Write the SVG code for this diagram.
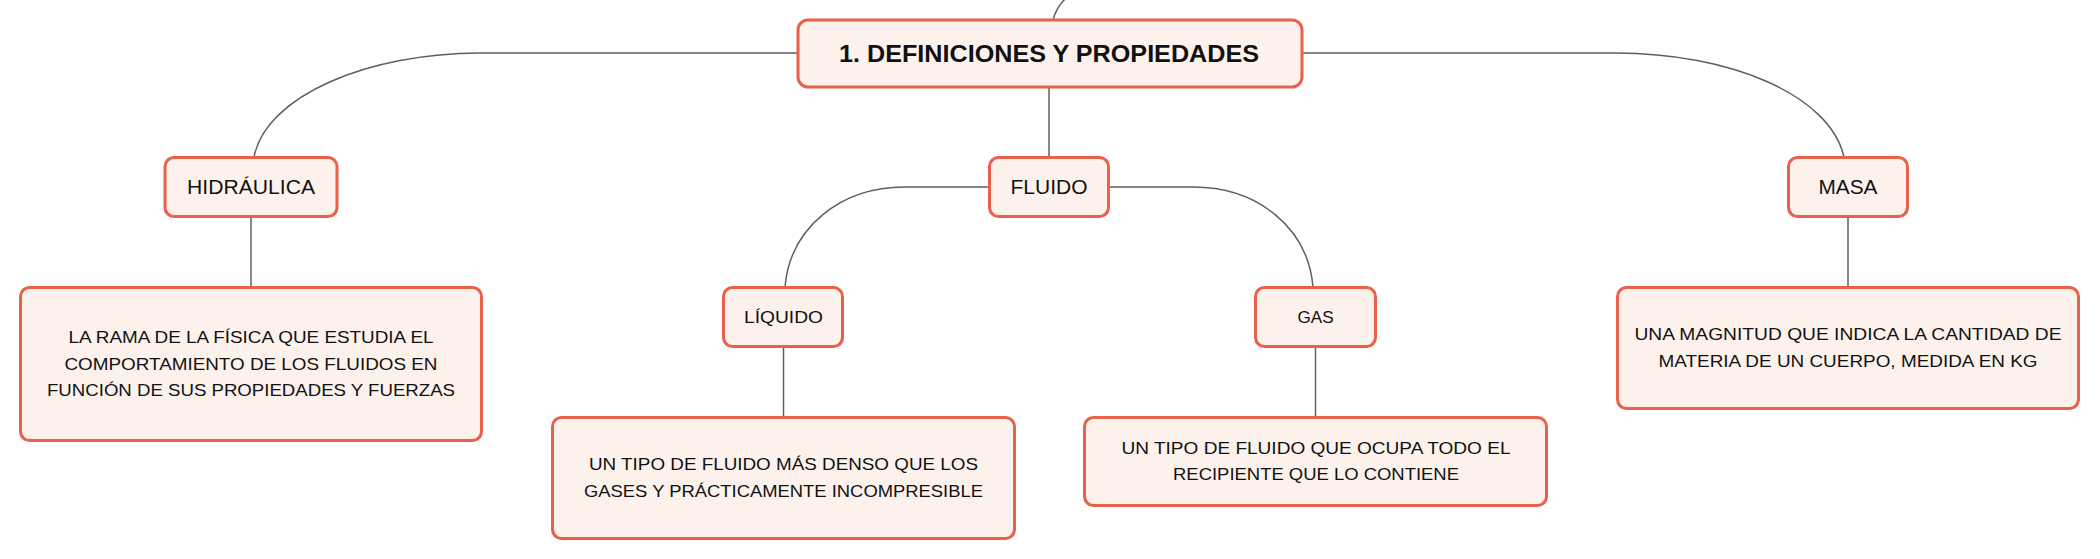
<svg xmlns="http://www.w3.org/2000/svg" width="2100" height="559" viewBox="0 0 2100 559">
<style>
.box{fill:#FDF1EC;stroke:#E9604B;stroke-width:3}
.lnk{fill:none;stroke:#5f5f5f;stroke-width:1.5}
text{font-family:"Liberation Sans",Arial,sans-serif;fill:#111;text-anchor:middle}
.t0{font-size:24px;font-weight:bold}
.t1{font-size:20px}
.t2{font-size:17px}
</style>
<rect width="2100" height="559" fill="#ffffff"/>
<g id="connectors">
<path class="lnk" d="M1053,20 C1055,12 1059,5 1065,-1"/>
<path class="lnk" d="M797,53 H480 C370,53 266,95 254,157"/>
<path class="lnk" d="M1049,87 V157"/>
<path class="lnk" d="M1302,53 H1615 C1730,53 1830,95 1844,157"/>
<path class="lnk" d="M251,217 V287"/>
<path class="lnk" d="M989,187 H905 C840,187 790,228 785,287"/>
<path class="lnk" d="M1109,187 H1193 C1258,187 1308,228 1313,287"/>
<path class="lnk" d="M783.5,347 V417"/>
<path class="lnk" d="M1315.5,347 V417"/>
<path class="lnk" d="M1848,217 V287"/>
</g>
<g id="main">
<rect class="box" x="798" y="20" width="504" height="67" rx="10"/>
<text class="t0" x="1049" y="62" textLength="420" lengthAdjust="spacingAndGlyphs">1. DEFINICIONES Y PROPIEDADES</text>
</g>
<g id="hidraulica">
<rect class="box" x="165" y="157.5" width="172" height="59" rx="9"/>
<text class="t1" x="251" y="194" textLength="128" lengthAdjust="spacingAndGlyphs">HIDRÁULICA</text>
</g>
<g id="fluido">
<rect class="box" x="989.5" y="157.5" width="119" height="59" rx="9"/>
<text class="t1" x="1049" y="194" textLength="77" lengthAdjust="spacingAndGlyphs">FLUIDO</text>
</g>
<g id="masa">
<rect class="box" x="1788.5" y="157.5" width="119" height="59" rx="9"/>
<text class="t1" x="1848" y="194" textLength="59" lengthAdjust="spacingAndGlyphs">MASA</text>
</g>
<g id="hidraulica-def">
<rect class="box" x="20.5" y="287.5" width="461" height="153" rx="9"/>
<text class="t2" x="251" y="343" textLength="365" lengthAdjust="spacingAndGlyphs">LA RAMA DE LA FÍSICA QUE ESTUDIA EL</text>
<text class="t2" x="251" y="369.5" textLength="373" lengthAdjust="spacingAndGlyphs">COMPORTAMIENTO DE LOS FLUIDOS EN</text>
<text class="t2" x="251" y="396" textLength="408" lengthAdjust="spacingAndGlyphs">FUNCIÓN DE SUS PROPIEDADES Y FUERZAS</text>
</g>
<g id="liquido">
<rect class="box" x="723.5" y="287.5" width="119" height="59" rx="9"/>
<text class="t2" x="783.5" y="323" textLength="79" lengthAdjust="spacingAndGlyphs">LÍQUIDO</text>
</g>
<g id="gas">
<rect class="box" x="1255.5" y="287.5" width="120" height="59" rx="9"/>
<text class="t2" x="1315.5" y="323" textLength="36" lengthAdjust="spacingAndGlyphs">GAS</text>
</g>
<g id="liquido-def">
<rect class="box" x="552.5" y="417.5" width="462" height="121" rx="9"/>
<text class="t2" x="783.5" y="470" textLength="389" lengthAdjust="spacingAndGlyphs">UN TIPO DE FLUIDO MÁS DENSO QUE LOS</text>
<text class="t2" x="783.5" y="496.5" textLength="399" lengthAdjust="spacingAndGlyphs">GASES Y PRÁCTICAMENTE INCOMPRESIBLE</text>
</g>
<g id="gas-def">
<rect class="box" x="1084.5" y="417.5" width="462" height="88" rx="9"/>
<text class="t2" x="1316" y="453.5" textLength="389" lengthAdjust="spacingAndGlyphs">UN TIPO DE FLUIDO QUE OCUPA TODO EL</text>
<text class="t2" x="1316" y="480" textLength="286" lengthAdjust="spacingAndGlyphs">RECIPIENTE QUE LO CONTIENE</text>
</g>
<g id="masa-def">
<rect class="box" x="1617.5" y="287.5" width="461" height="121" rx="9"/>
<text class="t2" x="1848" y="340" textLength="427" lengthAdjust="spacingAndGlyphs">UNA MAGNITUD QUE INDICA LA CANTIDAD DE</text>
<text class="t2" x="1848" y="366.5" textLength="379" lengthAdjust="spacingAndGlyphs">MATERIA DE UN CUERPO, MEDIDA EN KG</text>
</g>
</svg>
